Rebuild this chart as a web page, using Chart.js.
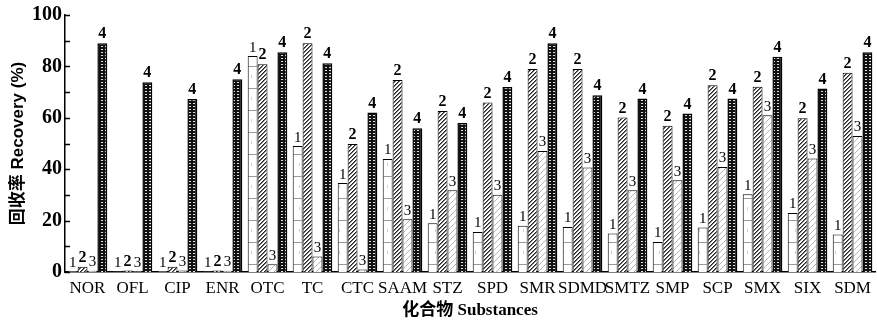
<!DOCTYPE html>
<html>
<head>
<meta charset="utf-8">
<script src="https://cdn.jsdelivr.net/npm/chart.js@4.4.1/dist/chart.umd.min.js"></script>
<style>
  html, body { margin: 0; padding: 0; background: #fff; }
  #wrap { width: 877px; height: 322px; }
</style>
</head>
<body>
<div id="wrap"><canvas id="c" width="877" height="322"></canvas></div>
<script>
const categories = ["NOR","OFL","CIP","ENR","OTC","TC","CTC","SAAM","STZ","SPD","SMR","SDMD","SMTZ","SMP","SCP","SMX","SIX","SDM"];
const series1 = [0.3, 0.2, 0.3, 0.2, 84, 49, 34.6, 44, 19, 15.6, 18, 17.5, 15, 11.7, 17.3, 30.3, 23, 14.6];
const series2 = [2, 0.6, 2, 0.6, 80.8, 89, 49.8, 74.7, 62.6, 66, 79, 79, 60.1, 56.9, 72.7, 72.1, 59.8, 77.5];
const series3 = [0.5, 0.3, 0.6, 0.5, 3, 6, 1, 20.5, 31.8, 30.1, 47.1, 40.7, 31.8, 35.7, 40.9, 61, 44.2, 52.9];
const series4 = [89, 73.8, 67.3, 75, 85.5, 81.2, 62.1, 55.9, 58, 72, 89, 68.8, 67.5, 61.7, 67.5, 83.8, 71.4, 85.5];
const seriesNames = ["1", "2", "3", "4"];
const yTicks = [0, 20, 40, 60, 80, 100];

function tile(w, h, draw) {
  const c = document.createElement('canvas');
  c.width = w; c.height = h;
  const g = c.getContext('2d');
  draw(g);
  return document.getElementById('c').getContext('2d').createPattern(c, 'repeat');
}
const pat1 = tile(8, 22, g => {
  g.fillStyle = '#fff'; g.fillRect(0, 0, 8, 22);
  g.fillStyle = '#9a9a9a'; g.fillRect(0, 0, 8, 1);
  g.fillStyle = '#d0d0d0'; g.fillRect(3, 9, 1, 3);
});
const pat2 = tile(4, 4, g => {
  g.fillStyle = '#fff'; g.fillRect(0, 0, 4, 4);
  g.fillStyle = '#222';
  for (let i = 0; i < 4; i++) g.fillRect(i, 3 - i, 1, 1);
  g.fillStyle = '#777';
  for (let i = 0; i < 4; i++) g.fillRect((i + 1) % 4, 3 - i, 1, 1);
});
const pat3 = tile(6, 6, g => {
  g.fillStyle = '#fff'; g.fillRect(0, 0, 6, 6);
  g.fillStyle = '#b5b5b5';
  for (let i = 0; i < 6; i++) g.fillRect(i, 5 - i, 1, 1);
});
const pat4 = tile(4, 3, g => {
  g.fillStyle = '#111'; g.fillRect(0, 0, 4, 3);
  g.fillStyle = '#e0e0e0'; g.fillRect(1, 1, 2, 1);
});

const labelPlugin = {
  id: 'barLabels',
  afterDatasetsDraw(chart) {
    const ctx = chart.ctx;
    ctx.save();
    ctx.fillStyle = '#000';
    ctx.textAlign = 'center';
    ctx.textBaseline = 'bottom';
    chart.data.datasets.forEach((ds, di) => {
      const meta = chart.getDatasetMeta(di);
      const bold = (di === 1 || di === 3);
      ctx.font = bold ? 'bold 16px "Liberation Serif"' : '15px "Liberation Serif"';
      meta.data.forEach(el => {
        ctx.fillText(ds.label, el.x, el.y - 1);
      });
    });
    ctx.restore();
  }
};

const innerTicks = {
  id: 'innerTicks',
  afterDraw(chart) {
    const ctx = chart.ctx;
    const y = chart.scales.y;
    const left = chart.chartArea.left;
    ctx.save();
    ctx.strokeStyle = '#000';
    ctx.lineWidth = 1.5;
    for (let v = 0; v <= 100; v += 10) {
      const py = Math.round(y.getPixelForValue(v)) + 0.5;
      ctx.beginPath();
      ctx.moveTo(left, py);
      ctx.lineTo(left + 5, py);
      ctx.stroke();
    }
    ctx.restore();
  }
};

const mk = (label, data, bg, bw) => ({
  label, data, backgroundColor: bg, borderColor: '#000', borderWidth: bw,
  barPercentage: 1.0, categoryPercentage: 0.88
});

new Chart(document.getElementById('c'), {
  type: 'bar',
  data: {
    labels: categories,
    datasets: [
      mk(seriesNames[0], series1, pat1, 1),
      mk(seriesNames[1], series2, pat2, 1),
      mk(seriesNames[2], series3, pat3, 1),
      mk(seriesNames[3], series4, pat4, 1.5)
    ]
  },
  options: {
    responsive: false,
    animation: false,
    devicePixelRatio: 1,
    layout: { padding: { top: 15, right: 1, left: 0, bottom: 0 } },
    plugins: { legend: { display: false }, tooltip: { enabled: false } },
    scales: {
      x: {
        grid: { display: false, drawTicks: false },
        border: { display: true, color: '#000', width: 1.5 },
        ticks: { color: '#000', padding: 6, autoSkip: false, maxRotation: 0,
                 font: { family: '"Liberation Serif"', size: 17 } },
        title: { display: true, text: '化合物 Substances', color: '#000',
                 padding: { top: 0, bottom: 1 },
                 font: { family: '"Liberation Serif", "Noto Sans CJK SC"', size: 17, weight: 'bold' } },
        afterFit(s) { s.height = 50; }
      },
      y: {
        min: 0, max: 100,
        afterBuildTicks(s) { s.ticks = yTicks.map(v => ({ value: v })); },
        grid: { display: false, drawTicks: false },
        border: { display: true, color: '#000', width: 1.5 },
        ticks: { color: '#000', padding: 3,
                 font: { family: '"Liberation Serif"', size: 20, weight: 'bold' } },
        title: { display: true, text: '回收率 Recovery (%)', color: '#000',
                 padding: { top: 8, bottom: 0 },
                 font: { family: '"Liberation Sans", "Noto Sans CJK SC"', size: 17, weight: 'bold' } },
        afterFit(s) { s.width = 65; }
      }
    }
  },
  plugins: [labelPlugin, innerTicks]
});
</script>
</body>
</html>
